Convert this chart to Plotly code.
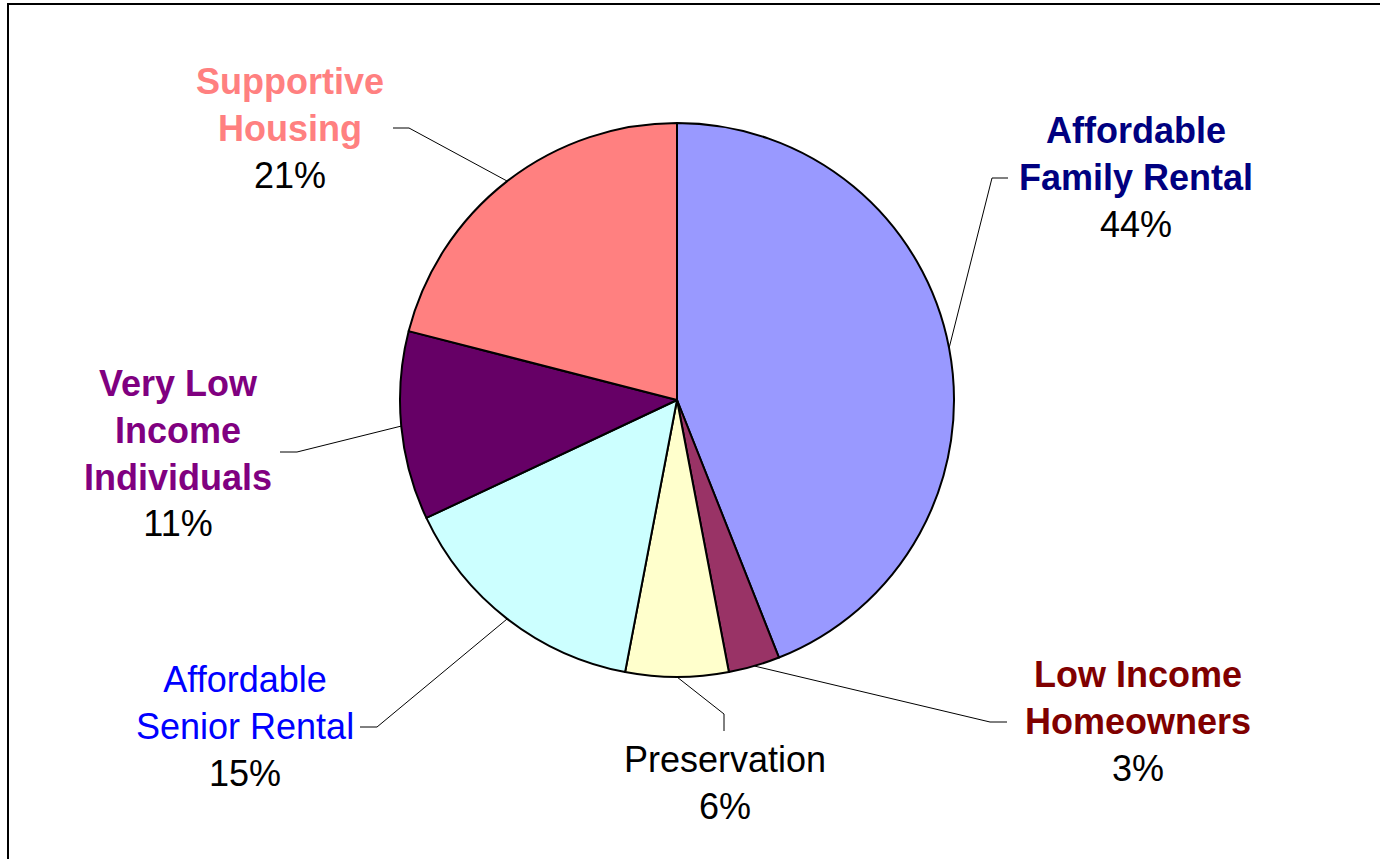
import math
import plotly.graph_objects as go

# Housing program share of funding
categories = [
    "Affordable Family Rental",
    "Low Income Homeowners",
    "Preservation",
    "Affordable Senior Rental",
    "Very Low Income Individuals",
    "Supportive Housing",
]
label_lines = [
    ["Affordable", "Family Rental"],
    ["Low Income", "Homeowners"],
    ["Preservation"],
    ["Affordable", "Senior Rental"],
    ["Very Low", "Income", "Individuals"],
    ["Supportive", "Housing"],
]
values = [44, 3, 6, 15, 11, 21]

slice_colors = ["#9999FF", "#993366", "#FFFFCC", "#CCFFFF", "#660066", "#FF8080"]
label_colors = ["#000080", "#800000", "#000000", "#0000FF", "#800080", "#FF8080"]
label_bold = [True, True, False, False, True, True]

# Figure geometry (pixels)
W, H = 1380, 859
CX, CY, R = 677, 400, 277

# Label block centres, elbow points and leader line ends (pixels)
label_pos = [(1136, 177), (1138, 721), (725, 783), (245, 726), (178, 453), (290, 128)]
elbows = [(992, 178), (990, 722), (724, 714), (377, 727), (297, 452), (409, 128)]
tails = [(1008, 178), (1007, 722), (724, 731), (360, 727), (280, 452), (393, 128)]

FONT = "Liberation Sans, Arial, sans-serif"

fig = go.Figure()

fig.add_trace(go.Pie(
    labels=categories,
    values=values,
    sort=False,
    direction="clockwise",
    rotation=0,
    textinfo="none",
    hoverinfo="label+percent",
    marker=dict(colors=slice_colors, line=dict(color="#000000", width=2)),
    domain=dict(x=[(CX - R) / W, (CX + R) / W], y=[(H - CY - R) / H, (H - CY + R) / H]),
    showlegend=False,
))

# Leader lines from each slice's outer midpoint to its label
total = sum(values)
cum = 0
for i, v in enumerate(values):
    mid = (cum + v / 2) / total * 2 * math.pi
    cum += v
    sx = CX + R * math.sin(mid)
    sy = CY - R * math.cos(mid)
    ex, ey = elbows[i]
    tx, ty = tails[i]
    fig.add_trace(go.Scatter(
        x=[sx, ex, tx], y=[sy, ey, ty], mode="lines",
        line=dict(color="#000000", width=1),
        hoverinfo="skip", showlegend=False,
    ))

# Category labels with percentages
for i, v in enumerate(values):
    name = "<br>".join(label_lines[i])
    if label_bold[i]:
        name = f"<b>{name}</b>"
    text = (f"<span style='color:{label_colors[i]}'>{name}</span>"
            f"<br><span style='color:#000000'>{v}%</span>")
    x, y = label_pos[i]
    fig.add_annotation(
        x=x, y=y, xref="x", yref="y", text=text, showarrow=False,
        xanchor="center", yanchor="middle", align="center",
        font=dict(family=FONT, size=36, color=label_colors[i]),
    )

# Chart frame
fig.add_shape(type="rect", xref="x", yref="y", x0=8, y0=4, x1=W + 20, y1=H + 20,
              line=dict(color="#000000", width=2), fillcolor="rgba(0,0,0,0)")

fig.update_layout(
    width=W, height=H,
    margin=dict(l=0, r=0, t=0, b=0),
    paper_bgcolor="#FFFFFF", plot_bgcolor="#FFFFFF",
    xaxis=dict(range=[0, W], visible=False, fixedrange=True),
    yaxis=dict(range=[H, 0], visible=False, fixedrange=True),
    font=dict(family=FONT),
)

fig.write_html("out.html")
